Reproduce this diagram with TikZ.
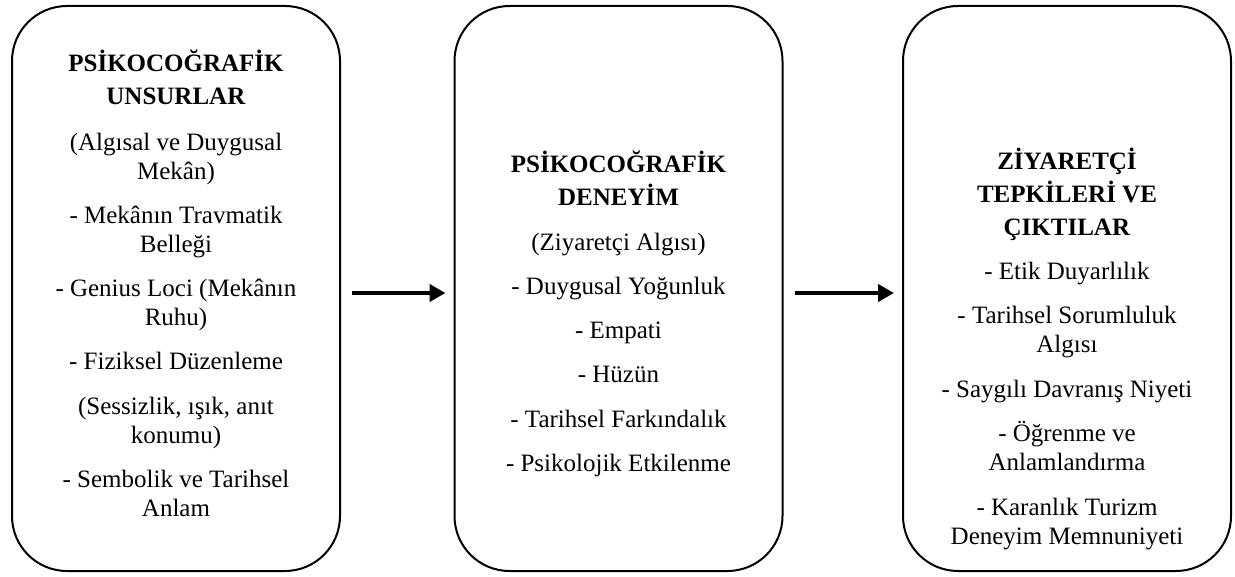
\documentclass[tikz,border=0pt]{standalone}
\usepackage{fontspec}
\setmainfont{Liberation Serif}
\usetikzlibrary{arrows.meta}
\begin{document}
\begin{tikzpicture}[>={Triangle[length=16pt,width=17pt]},x=1pt,y=-1pt,
	kutu/.style={draw,line width=2pt,rounded corners=55pt,minimum width=328pt,minimum height=565pt,inner sep=0pt},
	yazi/.style={anchor=north,align=center,inner sep=0pt,font=\fontsize{25}{29}\selectfont},
	ok/.style={->,line width=4pt,shorten <=11pt,shorten >=8pt}]
	\useasboundingbox (0,0) rectangle (1235,577);
	\node[kutu] (k1) at (176,288.5) {};
	\node[kutu] (k2) at (618.5,288.5) {};
	\node[kutu] (k3) at (1067,288.5) {};
	\node[yazi] (y1) at (176,50) {\textbf{PSİKOCOĞRAFİK}\\[4pt]\textbf{UNSURLAR}\\[17pt]
		(Algısal ve Duygusal\\Mekân)\\[15pt]
		- Mekânın Travmatik\\Belleği\\[15pt]
		- Genius Loci (Mekânın\\Ruhu)\\[15pt]
		- Fiziksel Düzenleme\\[16pt]
		(Sessizlik, ışık, anıt\\konumu)\\[15pt]
		- Sembolik ve Tarihsel\\Anlam};
	\node[yazi] (y2) at (618.5,151) {\textbf{PSİKOCOĞRAFİK}\\[4pt]\textbf{DENEYİM}\\[16pt]
		(Ziyaretçi Algısı)\\[15pt]
		- Duygusal Yoğunluk\\[15pt]
		- Empati\\[15pt]
		- Hüzün\\[16pt]
		- Tarihsel Farkındalık\\[15pt]
		- Psikolojik Etkilenme};
	\node[yazi] (y3) at (1067,148) {\textbf{ZİYARETÇİ}\\[4pt]\textbf{TEPKİLERİ VE}\\[4pt]\textbf{ÇIKTILAR}\\[15pt]
		- Etik Duyarlılık\\[15pt]
		- Tarihsel Sorumluluk\\Algısı\\[16pt]
		- Saygılı Davranış Niyeti\\[15pt]
		- Öğrenme ve\\Anlamlandırma\\[16pt]
		- Karanlık Turizm\\Deneyim Memnuniyeti};
	\draw[ok] ([yshift=-4.5pt]k1.east) -- ([yshift=-4.5pt]k2.west);
	\draw[ok] ([yshift=-4.5pt]k2.east) -- ([yshift=-4.5pt]k3.west);
\end{tikzpicture}
\end{document}
